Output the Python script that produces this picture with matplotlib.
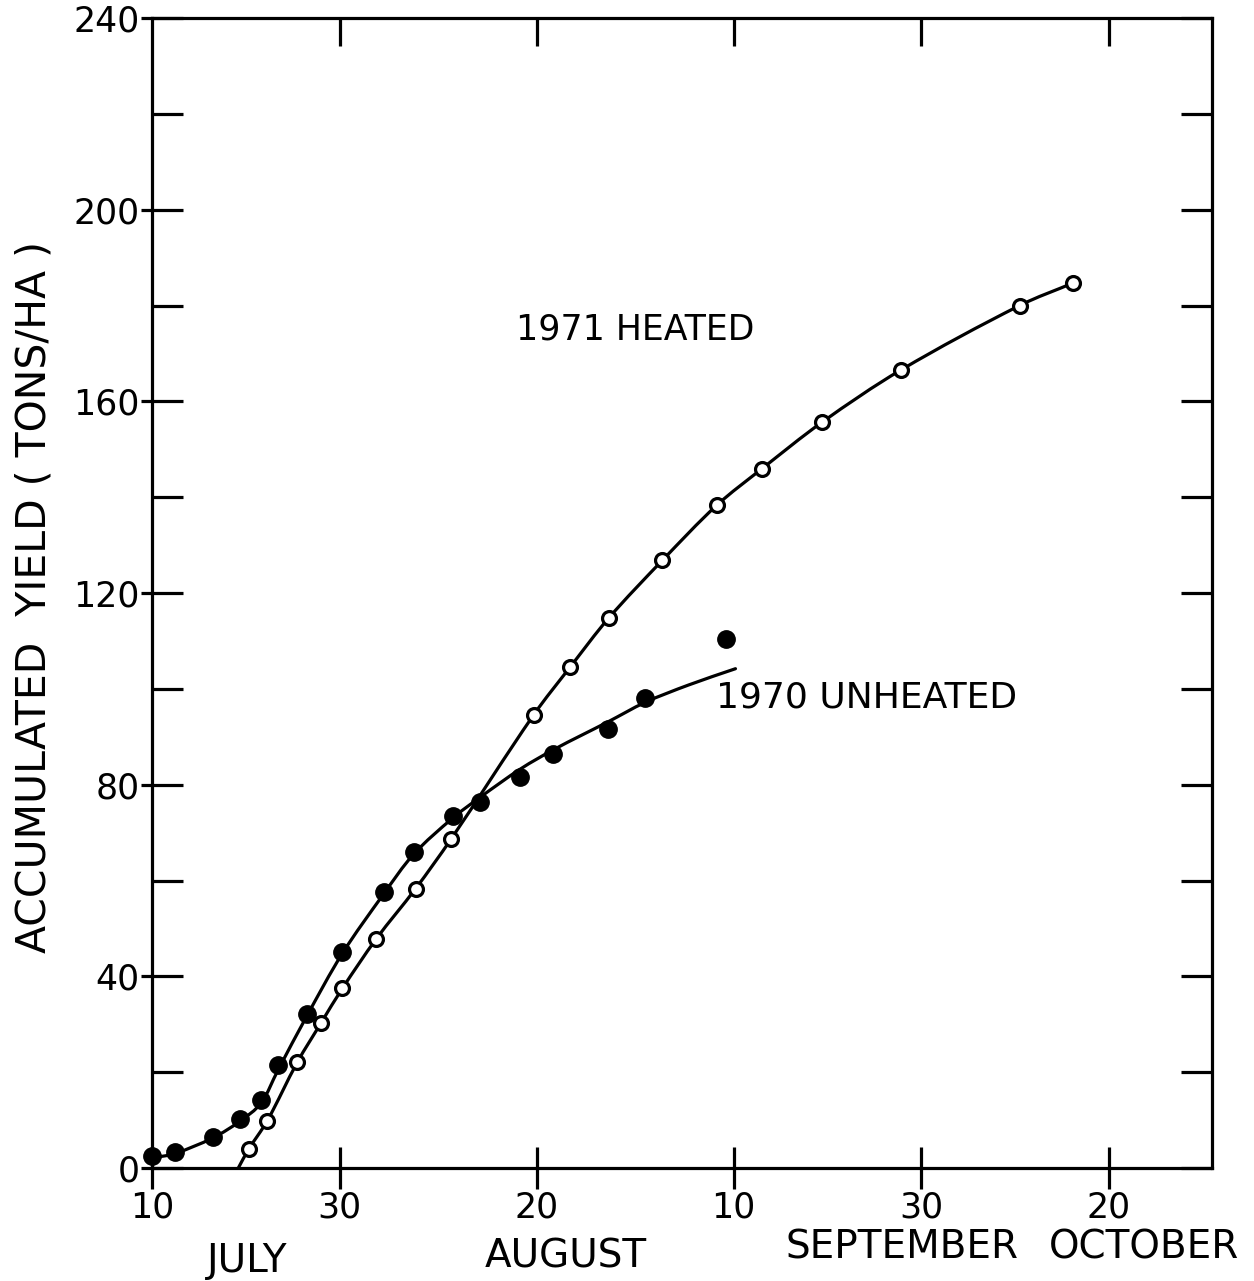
import numpy as np
import matplotlib.pyplot as plt
from matplotlib.path import Path
from matplotlib.patches import PathPatch
from matplotlib.ticker import FixedLocator, MultipleLocator

# x values are day of year (July 10 = 191)
unheated_day = [191.0, 193.4, 197.5, 200.4, 202.6, 204.4, 207.5, 211.3, 215.7,
                218.9, 223.1, 226.0, 230.2, 233.8, 239.6, 243.6, 252.2]
unheated_yield = [2.5, 3.3, 6.5, 10.2, 14.1, 21.4, 32.1, 45.0, 57.6,
                  65.9, 73.5, 76.3, 81.6, 86.3, 91.6, 98.0, 110.3]

# hand drawn curve through the 1970 points
unheated_fit_day = [191.0, 193.4, 197.5, 200.4, 202.6, 204.4, 207.5, 211.3, 215.7,
                    218.9, 223.1, 226.0, 230.3, 233.9, 239.6, 243.6, 248.2, 253.2]
unheated_fit_yield = [2.1, 3.0, 6.3, 9.8, 13.5, 20.3, 31.7, 44.8, 57.2,
                      65.5, 73.1, 77.4, 83.3, 87.4, 93.1, 97.2, 100.8, 104.2]

heated_day = [201.3, 203.3, 206.5, 209.0, 211.3, 214.9, 219.1, 222.9, 231.7,
              235.6, 239.7, 245.4, 251.2, 256.0, 262.4, 270.8, 283.5, 289.2]
heated_yield = [3.9, 9.9, 22.1, 30.2, 37.5, 47.8, 58.3, 68.7, 94.6,
                104.6, 114.8, 126.8, 138.3, 145.9, 155.6, 166.5, 180.0, 184.7]

# curve for 1971 starts on the axis
heated_fit_day = [200.2] + heated_day
heated_fit_yield = [0.0] + heated_yield

tick_days = [191, 211, 232, 253, 273, 293]
tick_labels = ['10', '30', '20', '10', '30', '20']

months = ['JULY', 'AUGUST', 'SEPTEMBER', 'OCTOBER']
month_x = [201.2, 235.1, 271.0, 296.8]
month_y = [-0.081, -0.077, -0.069, -0.069]

LW = 2.3
PX_PER_DAY, PX_PER_TON = 9.38, 4.79


def smooth_curve(xs, ys):
    """Bezier path through every point, tangents weighted by segment length."""
    p = np.column_stack([xs, ys]).astype(float)
    scale = np.array([PX_PER_DAY, PX_PER_TON])
    q = p * scale
    n = len(q)
    tang = np.zeros_like(q)
    for i in range(n):
        a = q[max(i - 1, 0)]
        b = q[min(i + 1, n - 1)]
        d = b - a
        tang[i] = d / (np.linalg.norm(d) + 1e-9)
    verts = [q[0]]
    codes = [Path.MOVETO]
    for i in range(n - 1):
        seg = np.linalg.norm(q[i + 1] - q[i])
        verts += [q[i] + tang[i] * seg / 3, q[i + 1] - tang[i + 1] * seg / 3, q[i + 1]]
        codes += [Path.CURVE4] * 3
    return Path(np.array(verts) / scale, codes)


fig = plt.figure(figsize=(12.54, 12.81), dpi=100)
ax = fig.add_axes([152 / 1254, 113 / 1281, 1060 / 1254, 1150 / 1281])

for xs, ys in [(unheated_fit_day, unheated_fit_yield), (heated_fit_day, heated_fit_yield)]:
    ax.add_patch(PathPatch(smooth_curve(xs, ys), fill=False, edgecolor='black',
                           lw=LW, capstyle='round', joinstyle='round'))

ax.plot(unheated_day, unheated_yield, 'o', ms=12.5, color='black', clip_on=False, zorder=3)
ax.plot(heated_day, heated_yield, 'o', ms=10, mfc='white', mec='black', mew=2.3, zorder=4)

ax.set_xlim(191, 304)
ax.set_ylim(0, 240)

for s in ax.spines.values():
    s.set_linewidth(LW)

# x ticks: cross the bottom axis, point inward on top
ax.xaxis.set_major_locator(FixedLocator(tick_days))
ax.set_xticklabels(tick_labels)
ax.xaxis.set_minor_locator(FixedLocator(tick_days[1:]))
ax.xaxis.remove_overlapping_locs = False
ax.tick_params(axis='x', which='major', direction='inout', length=30, width=LW,
               bottom=True, top=False, labelsize=25, pad=1)
ax.tick_params(axis='x', which='minor', direction='in', length=20, width=LW,
               bottom=False, top=True)

# y ticks
ax.yaxis.set_major_locator(MultipleLocator(40))
ax.yaxis.set_minor_locator(MultipleLocator(20))
ax.yaxis.remove_overlapping_locs = False
ax.tick_params(axis='y', which='major', direction='out', length=8, width=LW,
               left=True, right=False, labelsize=25, pad=1)
ax.tick_params(axis='y', which='minor', direction='in', length=22, width=LW,
               left=True, right=True)

for name, x, y in zip(months, month_x, month_y):
    ax.text(x, y, name, transform=ax.get_xaxis_transform(), ha='center',
            va='center', fontsize=28, clip_on=False)

fig.text(35 / 1254, 1 - 597 / 1281, 'ACCUMULATED  YIELD ( TONS/HA )',
         rotation=90, ha='center', va='center', fontsize=29.5)

ax.text(242.5, 175.0, '1971 HEATED', ha='center', va='center', fontsize=25)
ax.text(267.2, 98.1, '1970 UNHEATED', ha='center', va='center', fontsize=26)

fig.savefig('out.png', dpi=100, facecolor='white')
